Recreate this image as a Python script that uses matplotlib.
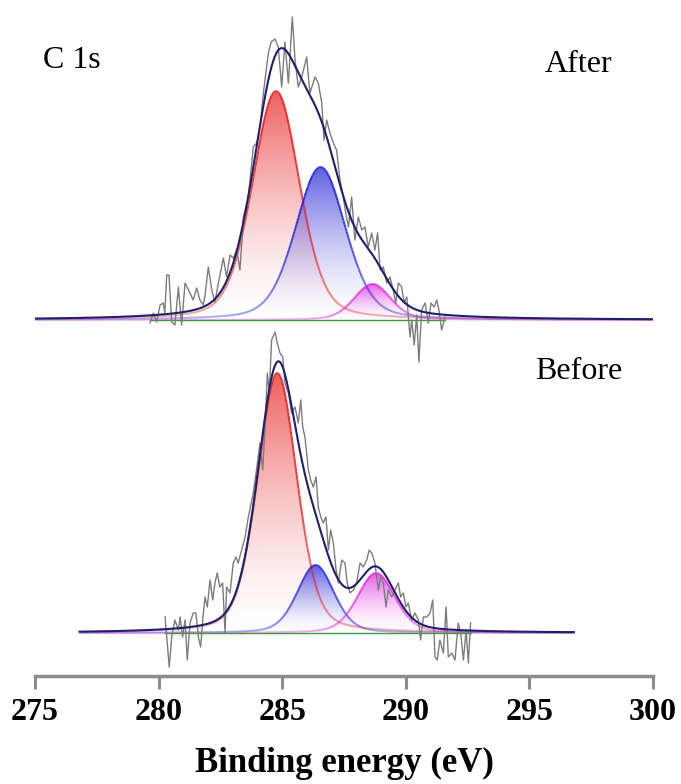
import numpy as np
import matplotlib
matplotlib.use("Agg")
import matplotlib.pyplot as plt
from matplotlib.collections import LineCollection
from matplotlib.patches import Polygon
from matplotlib.colors import to_rgb

plt.rcParams['font.family'] = ['Liberation Serif', 'DejaVu Serif']

# C 1s raw spectra (intensity above background, a.u.)
after_E = [279.65, 279.79, 279.92, 280.06, 280.19, 280.25, 280.33, 280.42, 280.53, 280.66,
           280.80, 280.93, 281.07, 281.27, 281.40, 281.54, 281.67, 281.81, 281.88, 282.01,
           282.15, 282.28, 282.42, 282.62, 282.75, 282.89, 283.02, 283.16, 283.29, 283.43,
           283.63, 283.83, 283.97, 284.10, 284.24, 284.44, 284.55, 284.71, 284.84, 284.98,
           285.11, 285.25, 285.41, 285.52, 285.65, 285.79, 285.99, 286.12, 286.33, 286.46,
           286.60, 286.69, 286.80, 286.93, 287.07, 287.20, 287.34, 287.47, 287.57, 287.68,
           287.81, 287.94, 288.08, 288.22, 288.35, 288.48, 288.62, 288.75, 288.86, 288.96,
           289.09, 289.23, 289.36, 289.49, 289.59, 289.70, 289.83, 289.94, 290.04, 290.17,
           290.24, 290.34, 290.44, 290.53, 290.64, 290.78, 290.91, 291.02, 291.15, 291.25,
           291.34, 291.45, 291.59]
after_I = [-3, 7, -2, 15, 17, 7, 45, 45, -2, -5,
           33, -5, 37, 27, 20, 32, 20, 15, 25, 53,
           30, 18, 37, 62, 43, 65, 62, 70, 50, 103,
           123, 173, 177, 193, 227, 267, 278, 281, 273, 233,
           278, 237, 303, 260, 233, 243, 263, 227, 243, 237,
           217, 180, 200, 187, 177, 170, 140, 123, 107, 93,
           123, 80, 103, 90, 93, 73, 87, 70, 87, 50,
           53, 37, 43, 30, 17, 37, 33, 17, 23, -17,
           0, -25, 5, -42, 10, 17, -3, 17, 13, 20,
           10, -10, 3]

before_E = [280.26, 280.35, 280.43, 280.53, 280.66, 280.80, 280.87, 280.97, 281.07, 281.16,
            281.27, 281.40, 281.51, 281.61, 281.70, 281.81, 281.88, 281.97, 282.08, 282.19,
            282.28, 282.37, 282.48, 282.59, 282.69, 282.75, 282.89, 283.02, 283.13, 283.22,
            283.36, 283.50, 283.63, 283.83, 283.97, 284.10, 284.21, 284.30, 284.40, 284.48,
            284.57, 284.71, 284.80, 284.91, 285.02, 285.11, 285.25, 285.38, 285.52, 285.65,
            285.75, 285.83, 285.92, 286.06, 286.15, 286.26, 286.37, 286.46, 286.56, 286.66,
            286.77, 286.87, 286.96, 287.07, 287.18, 287.27, 287.41, 287.54, 287.63, 287.74,
            287.88, 288.01, 288.15, 288.28, 288.42, 288.52, 288.62, 288.75, 288.89, 288.98,
            289.09, 289.20, 289.29, 289.43, 289.56, 289.70, 289.79, 289.90, 290.01, 290.10,
            290.24, 290.37, 290.51, 290.60, 290.71, 290.85, 290.98, 291.09, 291.18, 291.27,
            291.38, 291.52, 291.63, 291.72, 291.86, 291.99, 292.12, 292.22, 292.33, 292.44,
            292.53, 292.62]
before_I = [16, -10, -34, -4, 13, 3, 16, -4, 13, -27,
            10, 20, 20, -4, -14, 20, 36, 26, 53, 33,
            50, 60, 46, 50, 0, 46, 40, 70, 76, 70,
            83, 96, 116, 140, 165, 190, 163, 203, 260, 240,
            293, 301, 290, 280, 276, 250, 240, 220, 226, 210,
            233, 206, 196, 163, 153, 146, 156, 126, 116, 110,
            116, 83, 103, 90, 63, 50, 73, 70, 50, 40,
            43, 50, 70, 66, 73, 83, 80, 70, 43, 56,
            50, 26, 43, 36, 43, 50, 36, 40, 26, 30,
            13, 20, 13, -7, 16, 16, 20, 33, -24, -27,
            -7, -20, 26, -24, -20, -27, 10, 0, -27, 3,
            -30, 10]

# fitted components: C-C, C-O, O-C=O
after_centers = [284.75, 286.55, 288.65]
after_heights = [229, 153, 36]
after_fwhm = [2.25, 2.4, 1.75]
before_centers = [284.8, 286.35, 288.8]
before_heights = [260, 68, 60]
before_fwhm = [1.88, 1.75, 1.8]

after_range = [275, 300]
before_range = [276.8, 296.8]

comp_colors = ['#e82020', '#2020d8', '#e020e0']
eta = 0.3  # lorentzian fraction


def pvoigt(x, c, h, w):
    g = np.exp(-4 * np.log(2) * ((x - c) / w) ** 2)
    l = 1 / (1 + (2 * (x - c) / w) ** 2)
    return h * ((1 - eta) * g + eta * l)


def faded_line(ax, x, y, base, h, color, z):
    pts = np.column_stack([x, base + y])
    segs = np.stack([pts[:-1], pts[1:]], axis=1)
    frac = np.clip((y[:-1] + y[1:]) / (2 * h), 0, 1)
    rgba = np.zeros((len(segs), 4))
    rgba[:, :3] = to_rgb(color)
    rgba[:, 3] = 0.25 + 0.75 * frac ** 0.4
    ax.add_collection(LineCollection(segs, colors=rgba, linewidths=1.4, zorder=z))


def draw_panel(ax, E, I, centers, heights, fwhm, xr, base):
    x = np.linspace(xr[0], xr[1], 1500)
    env = np.zeros_like(x)
    for k, (c, h, w) in enumerate(zip(centers, heights, fwhm)):
        y = pvoigt(x, c, h, w)
        env += y
        verts = np.vstack([np.column_stack([x, base + y]), np.column_stack([x[::-1], np.full_like(x, base)])])
        patch = Polygon(verts, closed=True, facecolor='none', edgecolor='none')
        ax.add_patch(patch)
        t = np.linspace(0, 1, 256)
        img = np.zeros((256, 1, 4))
        img[:, 0, :3] = to_rgb(comp_colors[k])
        img[:, 0, 3] = 0.72 * t ** 1.5
        im = ax.imshow(img, aspect='auto', origin='lower', extent=[xr[0], xr[1], base, base + h],
                       zorder=1 + k * 0.1, interpolation='bilinear')
        im.set_clip_path(patch)
        faded_line(ax, x, y, base, h, comp_colors[k], 2 + k * 0.1)
    ax.plot([min(E), max(E)], [base, base], color='#3c9a3c', lw=1, zorder=2.5)
    ax.plot(E, base + np.array(I), color='#7c7c7c', lw=1.0, zorder=3)
    ax.plot(x, base + env, color='#1f1f6b', lw=1.5, zorder=4)


fig = plt.figure(figsize=(6.81, 7.84), dpi=100)
ax = fig.add_axes([35 / 681, 108 / 784, 618 / 681, 676 / 784])

draw_panel(ax, after_E, after_I, after_centers, after_heights, after_fwhm, after_range, 356)
draw_panel(ax, before_E, before_I, before_centers, before_heights, before_fwhm, before_range, 43)

ax.text(275.32, 608, 'C 1s', fontsize=23, va='baseline')
ax.text(295.63, 604, 'After', fontsize=23, va='baseline')
ax.text(295.23, 297, 'Before', fontsize=23, va='baseline')

ax.set_xlim(275, 300)
ax.set_ylim(0, 676)
ax.set_xticks([275, 280, 285, 290, 295, 300])
ax.set_yticks([])
for s in ['left', 'right', 'top']:
    ax.spines[s].set_visible(False)
ax.spines['bottom'].set_color('#8c8c8c')
ax.spines['bottom'].set_linewidth(2.5)
ax.tick_params(axis='x', direction='out', length=9, width=2.2, color='#8c8c8c', pad=7)
for lab in ax.get_xticklabels():
    lab.set_fontsize(23)
    lab.set_fontweight('bold')
ax.set_xlabel('Binding energy (eV)', fontsize=25, fontweight='bold', labelpad=14)

fig.savefig('out.png', dpi=100)
